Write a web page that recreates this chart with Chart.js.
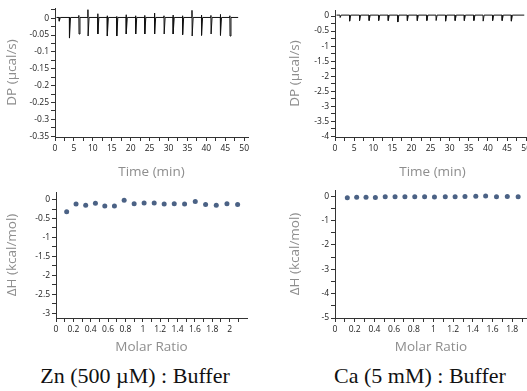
<!DOCTYPE html>
<html>
<head>
<meta charset="utf-8">
<script src="https://cdn.jsdelivr.net/npm/chart.js@4.4.1/dist/chart.umd.min.js"></script>
<style>
  html, body { margin: 0; padding: 0; background: #fff; }
  body { width: 527px; height: 391px; position: relative; overflow: hidden; }
  .panel { position: absolute; }
  .caption {
    position: absolute; top: 363px; width: 270px; text-align: center;
    font-family: "Liberation Serif", "DejaVu Serif", serif; font-size: 22px; color: #111;
  }
</style>
</head>
<body>
<div class="panel" style="left:0;top:0"><canvas id="znRaw" width="263" height="180"></canvas></div>
<div class="panel" style="left:263px;top:0"><canvas id="caRaw" width="290" height="180"></canvas></div>
<div class="panel" style="left:0;top:180px"><canvas id="znFit" width="263" height="175"></canvas></div>
<div class="panel" style="left:263px;top:180px"><canvas id="caFit" width="290" height="175"></canvas></div>
<div class="caption" style="left:0px">Zn (500 µM) : Buffer</div>
<div class="caption" style="left:285px">Ca (5 mM) : Buffer</div>

<script>
// Zn thermogram (DP vs time): injection times and spike extremes
const znInjTime = [1.1, 3.8, 6.3, 8.7, 11.3, 13.8, 16.3, 18.8, 21.3, 23.7, 26.3, 28.8, 31.2, 33.7, 36.2, 38.7, 41.2, 43.7, 46.2];
const znSpikeUp = [0.002, 0.003, 0.008, 0.025, 0.013, 0.007, 0.005, 0.010, 0.007, 0.008, 0.015, 0.007, 0.009, 0.007, 0.023, 0.009, 0.008, 0.011, 0.007];
const znSpikeDown = [-0.009, -0.059, -0.047, -0.053, -0.047, -0.053, -0.053, -0.047, -0.047, -0.047, -0.047, -0.047, -0.047, -0.049, -0.053, -0.051, -0.047, -0.051, -0.053];
const znBaseline = 0.002;
const znRunSpan = [0.4, 48.4];

// Ca thermogram
const caInjTime = [1.3, 3.8, 6.4, 8.9, 11.4, 13.9, 16.4, 18.9, 21.5, 24.0, 26.4, 28.9, 31.4, 33.8, 36.3, 38.7, 41.2, 43.7, 46.1];
const caSpikeDown = [-0.05, -0.17, -0.15, -0.15, -0.15, -0.15, -0.2, -0.15, -0.15, -0.15, -0.15, -0.17, -0.15, -0.15, -0.15, -0.17, -0.15, -0.15, -0.17];
const caBaseline = 0.03;
const caRunSpan = [0.4, 49.5];

// Integrated heats (dH vs molar ratio)
const znRatio = [0.123, 0.231, 0.342, 0.454, 0.562, 0.673, 0.785, 0.900, 1.015, 1.131, 1.246, 1.362, 1.481, 1.604, 1.723, 1.846, 1.969, 2.092];
const znDH = [-0.32, -0.12, -0.15, -0.10, -0.17, -0.17, -0.02, -0.11, -0.09, -0.09, -0.12, -0.11, -0.12, -0.05, -0.13, -0.15, -0.11, -0.13];
const caRatio = [0.125, 0.22, 0.315, 0.41, 0.51, 0.61, 0.71, 0.81, 0.91, 1.01, 1.12, 1.22, 1.32, 1.43, 1.53, 1.64, 1.75, 1.86];
const caDH = [-0.07, -0.05, -0.05, -0.06, -0.03, -0.03, -0.03, -0.03, -0.03, -0.04, -0.03, -0.03, -0.02, -0.01, 0.0, -0.03, -0.02, -0.03];

// Major tick labels (minor ticks sit halfway between)
const timeTicks = [0, 5, 10, 15, 20, 25, 30, 35, 40, 45, 50];
const znDPTicks = [0, -0.05, -0.1, -0.15, -0.2, -0.25, -0.3, -0.35];
const caDPTicks = [0, -0.5, -1, -1.5, -2, -2.5, -3, -3.5, -4];
const znRatioTicks = [0, 0.2, 0.4, 0.6, 0.8, 1, 1.2, 1.4, 1.6, 1.8, 2];
const znDHTicks = [0, -0.5, -1, -1.5, -2, -2.5, -3];
const caRatioTicks = [0, 0.2, 0.4, 0.6, 0.8, 1, 1.2, 1.4, 1.6, 1.8];
const caDHTicks = [0, -1, -2, -3, -4, -5];

const TICK_FONT = { family: 'Open Sans', size: 8.5 };
const TITLE_FONT = { family: 'Open Sans', size: 13.5 };
const AXIS_COLOR = '#333';
const TITLE_COLOR = '#8e8e8e';
const DOT_COLOR = '#4b6285';

// build a trace from the baseline and the spike extremes
function thermogram(times, ups, downs, base, span) {
    const pts = [{ x: span[0], y: base }];
    times.forEach((t, i) => {
        pts.push({ x: t, y: base });
        pts.push({ x: t, y: ups ? ups[i] : base });
        pts.push({ x: t + 0.05, y: downs[i] });
        pts.push({ x: t + 0.3, y: base });
    });
    pts.push({ x: span[1], y: base });
    return pts;
}

function withMinor(majors, min, max) {
    const step = Math.abs(majors[1] - majors[0]) / 2;
    const lo = Math.min(...majors), hi = Math.max(...majors);
    const vals = [];
    for (let v = lo - step; v <= hi + step + 1e-9; v += step) {
        if (v >= min - 1e-9 && v <= max + 1e-9) vals.push(Math.round(v * 1000) / 1000);
    }
    return vals;
}

function fmt(v, majors) {
    const isMajor = majors.some(m => Math.abs(m - v) < 1e-6);
    if (!isMajor) return '';
    const r = Math.round(v * 1000) / 1000;
    return r === 0 ? '0' : String(r);
}

function axis(opts) {
    return {
        type: 'linear',
        min: opts.min,
        max: opts.max,
        afterBuildTicks: scale => {
            scale.ticks = withMinor(opts.majors, opts.min, opts.max).map(v => ({ value: v }));
        },
        afterFit: scale => {
            if (opts.width) scale.width = opts.width;
            if (opts.height) scale.height = opts.height;
            // let the layout padding alone decide the plot box
            scale.paddingLeft = 0;
            scale.paddingRight = 0;
            scale.paddingTop = 0;
            scale.paddingBottom = 0;
        },
        ticks: {
            autoSkip: false,
            maxRotation: 0,
            padding: 2,
            color: '#222',
            font: TICK_FONT,
            callback: v => fmt(v, opts.majors)
        },
        grid: {
            drawOnChartArea: false,
            tickLength: 4,
            tickColor: AXIS_COLOR,
            tickWidth: 1
        },
        border: { display: true, color: AXIS_COLOR, width: 1 },
        title: {
            display: true,
            text: opts.title,
            color: TITLE_COLOR,
            font: TITLE_FONT,
            padding: { top: opts.titleOffset, bottom: 0 }
        }
    };
}

function makeChart(id, dataset, x, y, padding) {
    return new Chart(document.getElementById(id), {
        type: 'scatter',
        data: { datasets: [dataset] },
        options: {
            responsive: false,
            animation: false,
            layout: { padding: padding },
            plugins: { legend: { display: false }, tooltip: { enabled: false } },
            scales: { x: x, y: y }
        }
    });
}

makeChart('znRaw', {
    data: thermogram(znInjTime, znSpikeUp, znSpikeDown, znBaseline, znRunSpan),
    showLine: true, borderColor: '#111', borderWidth: 1, pointRadius: 0, tension: 0
},
    axis({ min: 0, max: 51, majors: timeTicks, title: 'Time (min)', height: 43, titleOffset: 3 }),
    axis({ min: -0.352, max: 0.03, majors: znDPTicks, title: 'DP (µcal/s)', width: 55, titleOffset: 4 }),
    { top: 8, right: 15, left: 0, bottom: 0 });

makeChart('caRaw', {
    data: thermogram(caInjTime, null, caSpikeDown, caBaseline, caRunSpan),
    showLine: true, borderColor: '#111', borderWidth: 1, pointRadius: 0, tension: 0
},
    axis({ min: 0, max: 51, majors: timeTicks, title: 'Time (min)', height: 43, titleOffset: 3 }),
    axis({ min: -4.02, max: 0.2, majors: caDPTicks, title: 'DP (µcal/s)', width: 72, titleOffset: 24 }),
    { top: 10, right: 23, left: 0, bottom: 0 });

makeChart('znFit', {
    data: znRatio.map((r, i) => ({ x: r, y: znDH[i] })),
    backgroundColor: DOT_COLOR, borderColor: DOT_COLOR, pointRadius: 2.5, borderWidth: 0
},
    axis({ min: 0, max: 2.2, majors: znRatioTicks, title: 'Molar Ratio', height: 37, titleOffset: 1 }),
    axis({ min: -3.13, max: 0.2, majors: znDHTicks, title: 'ΔH (kcal/mol)', width: 56, titleOffset: 4 }),
    { top: 12, right: 16, left: 0, bottom: 0 });

makeChart('caFit', {
    data: caRatio.map((r, i) => ({ x: r, y: caDH[i] })),
    backgroundColor: DOT_COLOR, borderColor: DOT_COLOR, pointRadius: 2.5, borderWidth: 0
},
    axis({ min: 0, max: 1.95, majors: caRatioTicks, title: 'Molar Ratio', height: 37, titleOffset: 1 }),
    axis({ min: -5.0, max: 0.25, majors: caDHTicks, title: 'ΔH (kcal/mol)', width: 72, titleOffset: 24 }),
    { top: 10, right: 26, left: 0, bottom: 0 });
</script>
</body>
</html>
